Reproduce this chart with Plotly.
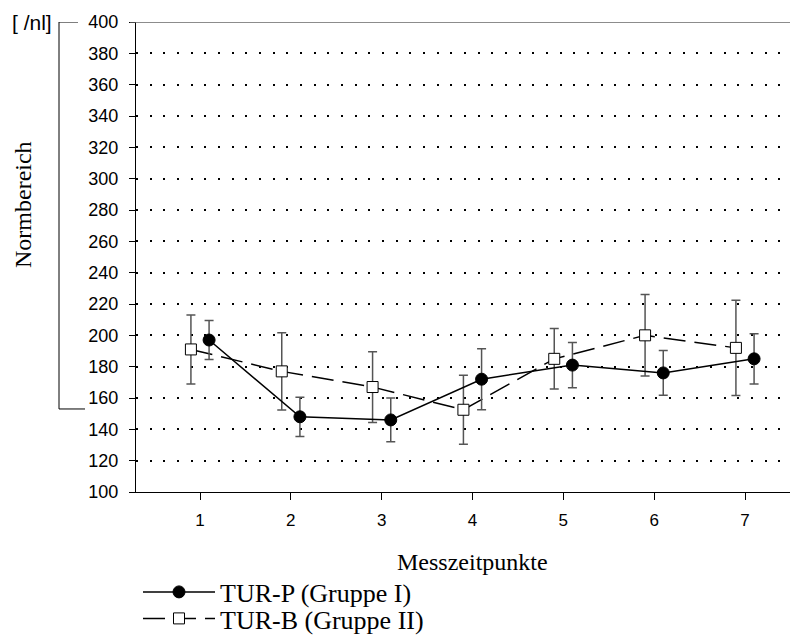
import plotly.graph_objects as go

x_cats = [1, 2, 3, 4, 5, 6, 7]
y_ticks = [100, 120, 140, 160, 180, 200, 220, 240, 260, 280, 300, 320, 340, 360, 380, 400]

name_p = "TUR-P (Gruppe I)"
mean_p = [197, 148, 146, 172, 181, 176, 185]
err_p = [12.5, 12.5, 14, 19.5, 14.5, 14.3, 16]

name_b = "TUR-B (Gruppe II)"
mean_b = [191, 177, 167, 152.5, 185, 200, 192]
err_b = [22, 24.7, 22.6, 22, 19.3, 26, 30.4]

norm_low, norm_high = 153, 400
offset = 0.1

serif = "Liberation Serif, Times New Roman, serif"
sans = "Liberation Sans, Arial, sans-serif"

PW, PH = 662, 470  # plot area size in px


def px(X):  # page x -> paper x
    return (X - 136) / PW


def py(Y):  # page y -> paper y
    return (492 - Y) / PH


fig = go.Figure()

fig.add_trace(go.Scatter(
    x=[v - offset for v in x_cats], y=mean_b, name=name_b, legend="legend2",
    mode="lines+markers",
    line=dict(color="black", width=1.5, dash="22px,9px"),
    marker=dict(symbol="square", size=11, color="white", line=dict(color="black", width=1)),
    error_y=dict(type="data", array=err_b, visible=True, color="#555555", thickness=1.5, width=4.5),
))
fig.add_trace(go.Scatter(
    x=[v + offset for v in x_cats], y=mean_p, name=name_p, legend="legend",
    mode="lines+markers",
    line=dict(color="black", width=1.5),
    marker=dict(symbol="circle", size=12, color="black", line=dict(color="black", width=1)),
    error_y=dict(type="data", array=err_p, visible=True, color="#555555", thickness=1.5, width=4.5),
))

# top frame line
fig.add_shape(type="line", xref="paper", yref="y", x0=-6 / PW, x1=1, y0=400, y1=400,
              line=dict(color="#666666", width=1.5))
# Normbereich bracket
fig.add_shape(type="line", xref="paper", yref="y", x0=px(59), x1=px(59),
              y0=norm_low, y1=norm_high, line=dict(color="black", width=1))
fig.add_shape(type="line", xref="paper", yref="y", x0=px(59), x1=px(78),
              y0=norm_high, y1=norm_high, line=dict(color="black", width=1))
fig.add_shape(type="line", xref="paper", yref="y", x0=px(59), x1=px(85),
              y0=norm_low, y1=norm_low, line=dict(color="black", width=1))

fig.add_annotation(text="[ /nl]", xref="paper", yref="y", x=px(54), y=400,
                   xanchor="right", yanchor="middle", showarrow=False,
                   font=dict(family=sans, size=21, color="black"))
fig.add_annotation(text="Normbereich", xref="paper", yref="paper", x=px(23),
                   y=py(205), textangle=-90, xanchor="center", yanchor="middle",
                   showarrow=False, font=dict(family=serif, size=24, color="black"))
fig.add_annotation(text="Messzeitpunkte", xref="paper", yref="paper", x=px(472.5),
                   y=py(562), xanchor="center", yanchor="middle",
                   showarrow=False, font=dict(family=serif, size=24, color="black"))

leg_common = dict(xanchor="left", yanchor="middle",
                  font=dict(family=serif, size=26, color="black"),
                  itemwidth=72, bgcolor="rgba(0,0,0,0)")

fig.update_layout(
    width=790, height=632,
    margin=dict(l=128, r=0, t=14, b=148, autoexpand=False),
    plot_bgcolor="white", paper_bgcolor="white",
    showlegend=True,
    legend=dict(x=px(138), y=py(592), **leg_common),
    legend2=dict(x=px(138), y=py(618.5), **leg_common),
    xaxis=dict(
        range=[0.2954, 7.5835], tickmode="array", tickvals=x_cats,
        ticktext=[str(v) for v in x_cats],
        showline=True, linecolor="black", linewidth=1,
        ticks="outside", ticklen=7, tickcolor="black", tickwidth=1,
        showgrid=False, zeroline=False, ticklabelstandoff=6,
        tickfont=dict(family=sans, size=17, color="black"),
    ),
    yaxis=dict(
        range=[100, 400], tickmode="array", tickvals=y_ticks,
        showline=True, linecolor="black", linewidth=1,
        ticks="outside", ticklen=6, tickcolor="black", tickwidth=1,
        showgrid=True, gridcolor="black", gridwidth=2, griddash="2px,11.67px",
        zeroline=False, ticklabelstandoff=7,
        tickfont=dict(family=sans, size=18, color="black"),
    ),
)

fig.write_html("out.html")
